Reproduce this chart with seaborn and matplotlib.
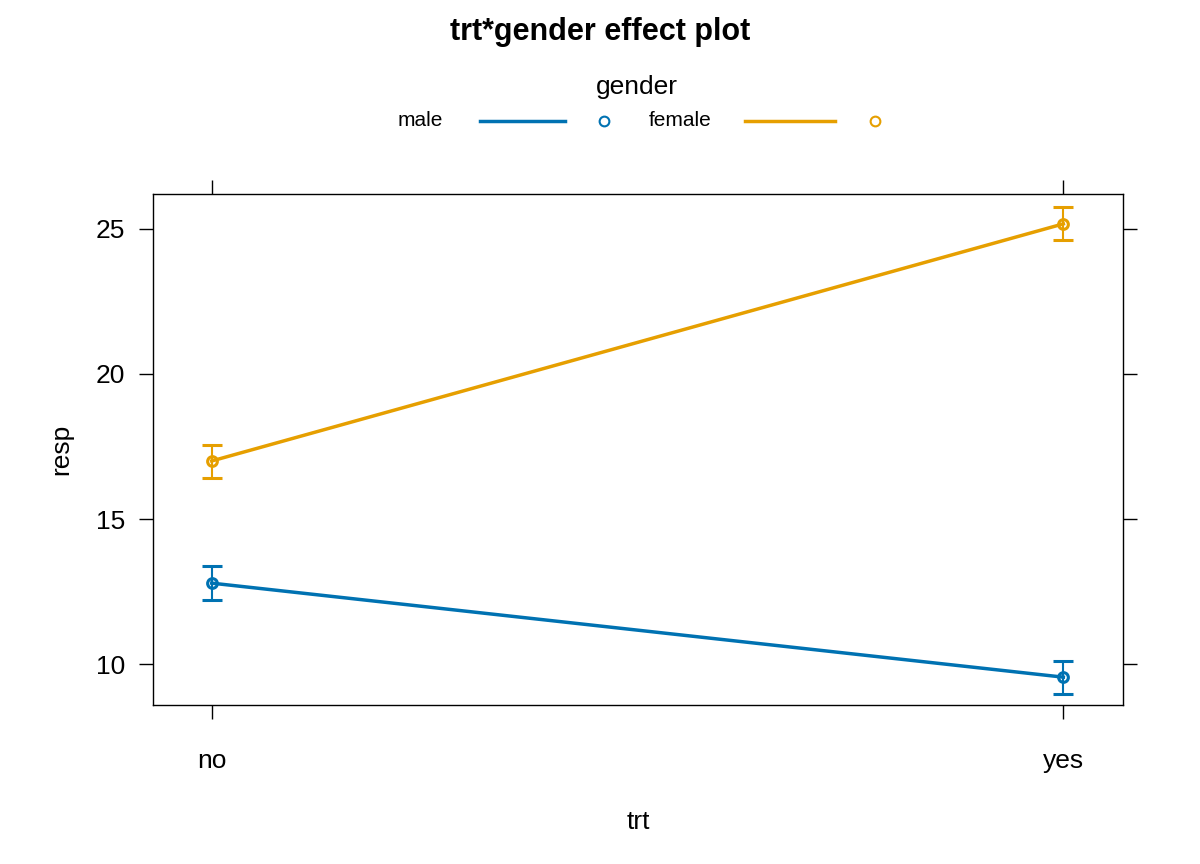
import matplotlib
matplotlib.use("Agg")
import matplotlib.pyplot as plt
import seaborn as sns
import pandas as pd
from matplotlib.lines import Line2D

plt.rcParams["font.family"] = "Liberation Sans"

trt = ["no", "yes"]
genders = ["male", "female"]
male_fit = [12.79, 9.55]
male_lo = [12.21, 8.97]
male_hi = [13.38, 10.10]
female_fit = [17.00, 25.17]
female_lo = [16.41, 24.62]
female_hi = [17.55, 25.76]
yticks = [10, 15, 20, 25]
colors = {"male": "#0072B2", "female": "#E69F00"}

rows = []
for g, fit, lo, hi in [("male", male_fit, male_lo, male_hi), ("female", female_fit, female_lo, female_hi)]:
    for i, t in enumerate(trt):
        rows.append(dict(gender=g, trt=t, x=i, fit=fit[i], lo=lo[i], hi=hi[i]))
df = pd.DataFrame(rows)

fig = plt.figure(figsize=(12, 8.64), dpi=100)
ax = fig.add_axes([0.1275, 0.184, 0.8083, 0.5915])
sns.lineplot(data=df, x="x", y="fit", hue="gender", palette=colors, ax=ax, lw=2.5, legend=False, sort=False)
for g in genders:
    d = df[df.gender == g]
    ax.errorbar(d.x, d.fit, yerr=[d.fit - d.lo, d.hi - d.fit], fmt="o", mfc="none",
                mec=colors[g], mew=2.2, ms=7, ecolor=colors[g], elinewidth=1.5, capsize=7, capthick=1.5)
ax.set_xlim(-0.069, 1.07)
ax.set_ylim(8.59, 26.2)
ax.set_xticks([0, 1])
ax.set_xticklabels(trt)
ax.set_yticks(yticks)
ax.tick_params(axis="both", direction="out", length=10, width=1, labelsize=19, pad=10,
               top=True, right=True)
ax.tick_params(axis="x", pad=22)
ax.set_xlabel("trt", fontsize=19, labelpad=26)
ax.set_ylabel("resp", fontsize=19, labelpad=16)
for s in ax.spines.values():
    s.set_linewidth(1)

fig.text(0.5, 0.963, "trt*gender effect plot", ha="center", va="center", fontsize=22, fontweight="bold")
fig.text(0.531, 0.899, "gender", ha="center", va="center", fontsize=19)
ly = 1 - 121 / 864
fig.text(420 / 1200, ly, "male", ha="center", va="center", fontsize=15)
fig.text(680 / 1200, ly, "female", ha="center", va="center", fontsize=15)
for g, (x0, x1, xc) in [("male", (480, 565, 604)), ("female", (745, 835, 875))]:
    fig.add_artist(Line2D([x0 / 1200, x1 / 1200], [ly, ly], color=colors[g], lw=2.5, transform=fig.transFigure))
    fig.add_artist(Line2D([xc / 1200], [ly], marker="o", mfc="none", mec=colors[g], mew=1.5, ms=7,
                          transform=fig.transFigure))
fig.savefig("out.png", dpi=100)
